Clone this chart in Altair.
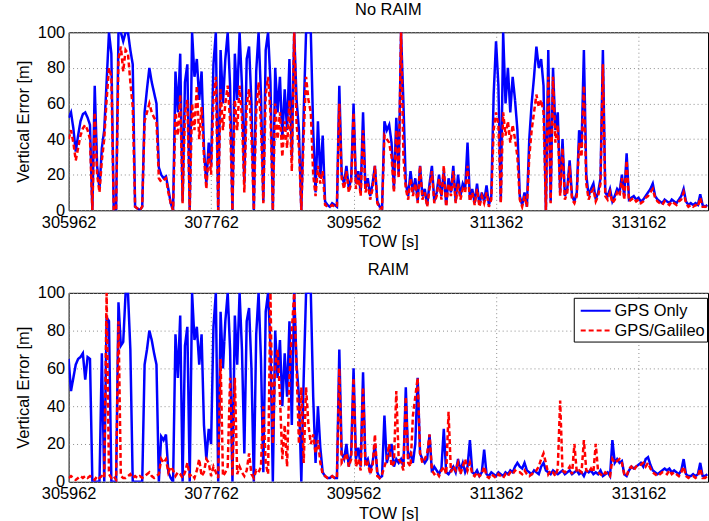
import altair as alt
import pandas as pd

START = 305962
STEP = 30
x_ticks = [305962, 307762, 309562, 311362, 313162]
y_ticks = [0, 20, 40, 60, 80, 100]
series_names = ["GPS Only", "GPS/Galileo"]
panel_titles = ["No RAIM", "RAIM"]

no_raim_gps = [
    52, 55, 46, 33, 42, 50, 54, 55, 52, 48,
    0, 70, 25, 12, 35, 45, 72, 100, 88, 0,
    0, 100, 100, 95, 100, 100, 90, 82, 2, 1,
    0, 2, 55, 68, 80, 72, 66, 60, 24, 20,
    18, 19, 12, 4, 0, 78, 55, 88, 5, 72,
    82, 0, 100, 75, 85, 62, 78, 35, 15, 38,
    25, 82, 100, 0, 90, 60, 85, 100, 70, 0,
    88, 62, 100, 70, 15, 85, 92, 60, 0, 78,
    100, 65, 5, 90, 100, 72, 0, 80, 55, 75,
    40, 68, 45, 85, 30, 100, 62, 45, 0, 55,
    100, 100, 100, 45, 10, 50, 18, 42, 5, 3,
    2, 4, 3, 2, 70, 20, 15, 25, 12, 18,
    60, 15, 22, 10, 55, 12, 18, 8, 15, 25,
    5, 2, 1, 50, 45, 48, 38, 12, 52, 20,
    100, 60, 15, 8, 22, 10, 18, 5, 25, 8,
    12, 3, 15, 25, 5, 10, 20, 8, 22, 3,
    18, 10, 25, 5, 20, 8, 15, 12, 38, 6,
    12, 4, 15, 3, 10, 5, 14, 3, 8, 65,
    95, 70, 5, 100, 60, 80, 55, 75, 62, 45,
    8, 3, 10, 2, 40, 60, 75, 92, 80, 85,
    70, 0, 90, 5, 80, 45, 55, 10, 40, 8,
    12, 28, 8, 5, 10, 45, 35, 90, 20, 8,
    12, 15, 6, 10, 18, 90, 10, 8, 12, 5,
    8, 12, 10, 20, 8, 32, 6, 7, 8, 6,
    7, 5, 6, 8, 10, 12, 15, 8, 6, 5,
    4, 6, 5, 4, 6, 5, 4, 6, 8, 12,
    5, 3, 4, 3, 4, 3, 9, 3, 2, 3,
]

no_raim_gal = [
    40, 45, 38, 28, 35, 42, 46, 48, 45, 40,
    0, 55, 20, 10, 28, 40, 62, 80, 75, 0,
    0, 85, 92, 78, 90, 88, 72, 58, 2, 1,
    0, 2, 50, 55, 60, 55, 52, 50, 18, 16,
    17, 18, 10, 4, 0, 55, 42, 65, 4, 55,
    62, 0, 60, 45, 70, 40, 58, 30, 12, 32,
    20, 62, 75, 0, 68, 45, 60, 70, 50, 0,
    62, 45, 70, 52, 10, 60, 68, 42, 0, 55,
    72, 48, 4, 65, 75, 55, 0, 60, 40, 55,
    30, 50, 35, 62, 22, 100, 48, 35, 0, 42,
    75, 62, 55, 20, 8, 25, 15, 22, 3, 2,
    2, 3, 2, 2, 60, 18, 12, 22, 10, 15,
    55, 12, 20, 8, 45, 10, 15, 6, 12, 25,
    4, 1, 1, 42, 40, 38, 30, 10, 45, 18,
    100, 30, 12, 6, 18, 8, 15, 4, 25, 6,
    10, 2, 12, 22, 4, 8, 18, 6, 25, 2,
    15, 8, 22, 4, 15, 6, 12, 10, 25, 5,
    10, 3, 12, 2, 8, 4, 10, 2, 6, 45,
    55, 48, 4, 55, 42, 50, 38, 48, 40, 30,
    6, 2, 8, 2, 30, 45, 55, 65, 58, 62,
    55, 0, 75, 4, 75, 38, 48, 8, 35, 6,
    10, 25, 6, 4, 8, 38, 30, 70, 15, 6,
    10, 12, 5, 8, 15, 82, 8, 6, 10, 4,
    6, 10, 8, 18, 6, 28, 5, 6, 7, 5,
    6, 4, 5, 7, 8, 10, 12, 7, 5, 4,
    3, 5, 4, 3, 5, 4, 3, 5, 6, 10,
    4, 2, 3, 2, 3, 2, 7, 2, 2, 2,
]

raim_gps = [
    65, 48, 55, 62, 65, 66, 68, 54, 66, 65,
    0, 0, 0, 0, 68, 0, 87, 85, 0, 0,
    0, 95, 72, 74, 100, 100, 70, 0, 0, 0,
    0, 0, 62, 70, 80, 75, 68, 62, 0, 24,
    22, 25, 5, 2, 0, 78, 55, 88, 0, 72,
    82, 0, 100, 75, 82, 62, 78, 30, 12, 28,
    20, 82, 100, 0, 90, 60, 85, 100, 70, 0,
    88, 62, 100, 70, 15, 85, 92, 60, 0, 78,
    100, 65, 5, 90, 100, 72, 0, 80, 55, 75,
    40, 68, 45, 85, 30, 100, 62, 45, 0, 55,
    100, 100, 100, 45, 10, 40, 18, 5, 3, 2,
    2, 3, 2, 2, 70, 15, 12, 20, 8, 15,
    60, 12, 18, 8, 58, 10, 12, 6, 10, 20,
    5, 2, 3, 35, 10, 15, 20, 8, 12, 10,
    12, 8, 50, 12, 15, 10, 20, 55, 15, 12,
    10, 12, 25, 5, 8, 6, 4, 7, 28, 5,
    4, 6, 8, 5, 12, 6, 10, 5, 8, 22,
    5, 4, 6, 3, 5, 17, 4, 3, 5, 4,
    3, 5, 4, 3, 5, 4, 6, 5, 8, 10,
    8, 7, 10, 6, 5, 4, 6, 5, 4, 8,
    10, 6, 5, 4, 6, 5, 4, 5, 6, 4,
    5, 6, 4, 5, 6, 4, 5, 3, 6, 5,
    6, 4, 5, 4, 6, 3, 4, 5, 3, 22,
    10, 12, 10, 11, 4, 3, 6, 8, 7, 8,
    9, 10, 8, 12, 13, 9, 6, 5, 4, 5,
    6, 7, 6, 7, 5, 6, 5, 4, 6, 12,
    4, 3, 3, 4, 3, 4, 10, 3, 3, 4,
]

raim_gal = [
    2, 3, 2, 1, 2, 3, 2, 3, 2, 3,
    2, 1, 3, 2, 3, 2, 100, 4, 2, 3,
    1, 85, 3, 2, 2, 3, 4, 2, 3, 2,
    3, 2, 3, 4, 5, 3, 2, 3, 4, 12,
    10, 12, 5, 8, 6, 3, 5, 4, 2, 5,
    10, 3, 4, 2, 6, 12, 3, 5, 12, 10,
    3, 8, 5, 2, 65, 3, 5, 8, 55, 3,
    55, 4, 8, 5, 3, 6, 15, 4, 2, 6,
    5, 8, 40, 10, 4, 100, 20, 62, 70, 45,
    12, 30, 8, 55, 80, 100, 60, 20, 50, 10,
    50, 30, 20, 25, 15, 22, 10, 4, 3, 2,
    2, 3, 2, 2, 60, 10, 12, 15, 8, 12,
    55, 8, 12, 6, 50, 8, 10, 4, 8, 25,
    3, 2, 4, 8, 12, 20, 8, 10, 48, 12,
    10, 6, 45, 10, 8, 35, 45, 55, 15, 10,
    12, 15, 25, 6, 4, 5, 3, 6, 8, 4,
    37, 5, 8, 6, 10, 4, 8, 12, 6, 10,
    4, 3, 5, 3, 4, 8, 3, 2, 4, 3,
    2, 4, 3, 2, 4, 3, 5, 4, 6, 5,
    5, 4, 6, 4, 3, 4, 5, 6, 8, 12,
    15, 10, 4, 6, 5, 3, 7, 43, 6, 5,
    6, 8, 4, 20, 5, 6, 5, 22, 6, 5,
    7, 5, 20, 5, 4, 3, 5, 4, 3, 12,
    10, 11, 12, 10, 4, 3, 7, 8, 6, 8,
    9, 9, 10, 8, 10, 7, 5, 4, 3, 4,
    5, 5, 4, 6, 4, 5, 4, 3, 5, 8,
    3, 2, 3, 3, 2, 3, 7, 2, 2, 3,
]

FONT = "Liberation Sans"
FS = 16.5
X_DOMAIN = [305962, 314040]


def make_frame(a, b):
    n = len(a)
    t = [START + STEP * i for i in range(n)]
    return pd.DataFrame({
        "t": t + t,
        "v": a + b,
        "series": [series_names[0]] * n + [series_names[1]] * n,
    })


def panel(df, title, h, legend):
    x = alt.X("t:Q", scale=alt.Scale(domain=X_DOMAIN, nice=False, zero=False),
              axis=alt.Axis(values=x_ticks, format="d", title="TOW [s]"))
    y = alt.Y("v:Q", scale=alt.Scale(domain=[0, 100], nice=False),
              axis=alt.Axis(values=y_ticks, title="Vertical Error [m]"))
    color = alt.Color("series:N",
                      scale=alt.Scale(domain=series_names, range=["#0000ff", "#ff0000"]),
                      legend=legend)
    dash = alt.StrokeDash("series:N",
                          scale=alt.Scale(domain=series_names, range=[[1, 0], [5, 3]]),
                          legend=legend)
    base = alt.Chart(df)
    blue = base.transform_filter(alt.datum.series == series_names[0]).mark_line(
        strokeWidth=2.5, clip=True).encode(x=x, y=y, color=color, strokeDash=dash)
    red = base.transform_filter(alt.datum.series == series_names[1]).mark_line(
        strokeWidth=2.5, clip=True).encode(x=x, y=y, color=color, strokeDash=dash)
    return alt.layer(blue, red).properties(width=643, height=h, title=title)


legend = alt.Legend(orient="none", legendX=508, legendY=5, title=None)

top = panel(make_frame(no_raim_gps, no_raim_gal), panel_titles[0], 179, None)
bottom = panel(make_frame(raim_gps, raim_gal), panel_titles[1], 190, legend)

chart = alt.vconcat(top, bottom, spacing=11, padding={"left": 14, "top": 0, "right": 0, "bottom": 0}).resolve_scale(
    color="independent", strokeDash="independent"
).configure_axis(
    labelFont=FONT, labelFontSize=FS, titleFont=FONT, titleFontSize=FS,
    titleFontWeight="normal", labelColor="black", titleColor="black",
    grid=True, gridColor="#8c8c8c", gridDash=[1, 3], gridWidth=1,
    ticks=False, domain=False, labelPadding=4, labelFlush=False,
).configure_axisX(titlePadding=3, labelPadding=4).configure_axisY(titlePadding=6).configure_view(
    stroke="black", strokeWidth=1
).configure_title(
    font=FONT, fontSize=FS, fontWeight="normal", color="black", offset=6
).configure_legend(
    strokeColor="black", fillColor="white", padding=2, labelFont=FONT,
    labelFontSize=FS, labelColor="black", symbolType="M-0.6,0H2.4", symbolSize=400,
    symbolStrokeWidth=2, rowPadding=0, labelOffset=17, labelLimit=300,
)

chart.save("out.html", embed_options={"renderer": "svg", "actions": False})
